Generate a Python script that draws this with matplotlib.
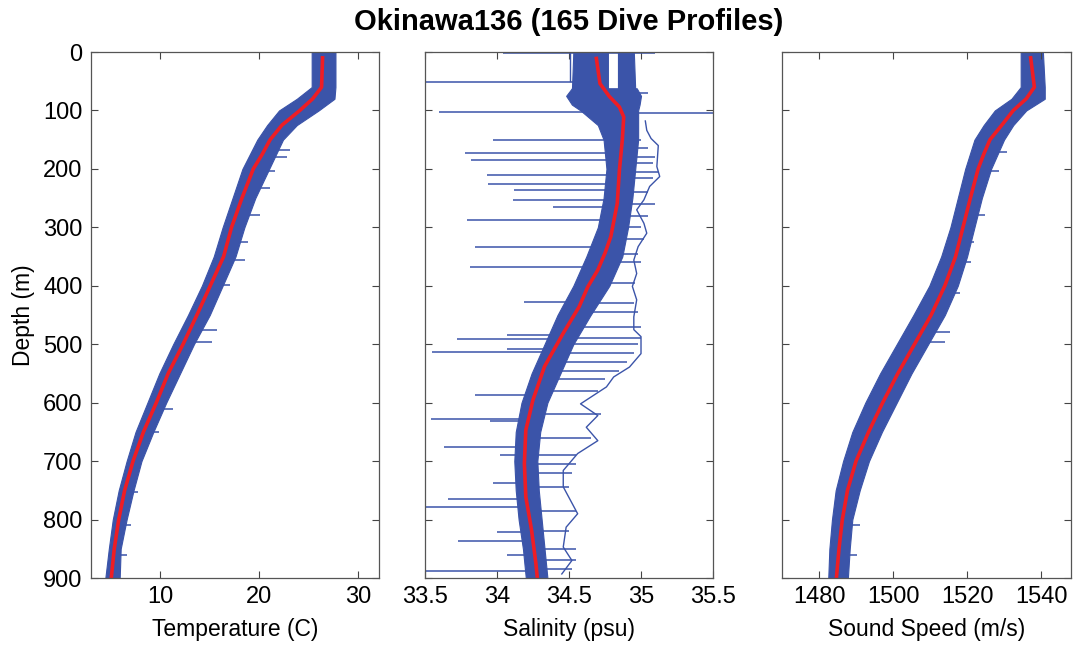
import numpy as np
import matplotlib
matplotlib.use("Agg")
import matplotlib.pyplot as plt

plt.rcParams["font.family"] = ["Liberation Sans", "DejaVu Sans"]

# ---------------- data ----------------
# Mean profiles (red)
mean_depth = [10, 60, 80, 100, 125, 150, 175, 200, 250, 300, 350, 400, 450,
              500, 550, 600, 650, 700, 750, 800, 850, 900]
temp_mean = [26.4, 26.3, 25.4, 24.1, 22.3, 21.1, 20.3, 19.4, 18.25, 17.2, 16.4,
             15.05, 13.7, 12.3, 10.8, 9.6, 8.3, 7.25, 6.4, 5.8, 5.35, 5.05]
sound_mean = [1537.2, 1538.2, 1536.0, 1532.5, 1529.4, 1526.2, 1524.5, 1523.0,
              1520.9, 1518.9, 1516.9, 1514.0, 1510.3, 1505.8, 1501.3, 1497.2,
              1493.4, 1490.0, 1487.7, 1486.3, 1485.4, 1484.7]

sal_depth = [11, 54, 76, 94, 111, 151, 202, 259, 316, 344, 373, 402, 436,
             481, 538, 595, 647, 704, 761, 818, 875, 900]
sal_mean = [34.69, 34.715, 34.78, 34.85, 34.88, 34.87, 34.85, 34.835, 34.79,
            34.75, 34.70, 34.63, 34.57, 34.46, 34.33, 34.25, 34.20, 34.19,
            34.20, 34.24, 34.27, 34.28]

# Spread of all dive profiles (blue envelope)
env_depth = [0, 60, 80, 100, 125, 150, 200, 250, 300, 350, 400, 450, 500,
             550, 600, 650, 700, 750, 800, 850, 900]
temp_lo = [25.3, 25.3, 23.8, 22.0, 20.8, 19.8, 18.3, 17.3, 16.3, 15.4, 14.2,
           12.8, 11.3, 9.9, 8.7, 7.5, 6.6, 5.8, 5.2, 4.8, 4.45]
temp_hi = [27.7, 27.7, 27.6, 26.0, 23.8, 22.4, 21.0, 19.6, 18.5, 17.6, 16.3,
           15.0, 13.4, 12.0, 10.6, 9.3, 8.1, 7.3, 6.6, 6.0, 5.9]
sound_lo = [1534.5, 1534.5, 1532.0, 1527.5, 1524.5, 1522.0, 1519.5, 1517.5,
            1515.5, 1513.0, 1509.8, 1505.5, 1501.0, 1496.5, 1492.5, 1489.0,
            1486.5, 1484.5, 1483.5, 1482.8, 1482.5]
sound_hi = [1540.5, 1541.0, 1541.0, 1536.0, 1532.5, 1530.0, 1526.5, 1524.0,
            1522.0, 1520.0, 1517.5, 1514.0, 1509.5, 1505.0, 1501.0, 1497.0,
            1493.5, 1491.0, 1489.0, 1488.3, 1487.8]

sal_env_depth = [62, 75, 90, 100, 125, 150, 200, 250, 300, 350, 400, 450, 500,
                 550, 600, 650, 700, 750, 800, 850, 900]
sal_lo = [34.52, 34.48, 34.52, 34.58, 34.70, 34.74, 34.76, 34.74, 34.70, 34.62,
          34.53, 34.42, 34.33, 34.24, 34.17, 34.13, 34.12, 34.13, 34.15, 34.18,
          34.20]
sal_hi = [34.97, 35.00, 34.99, 34.98, 34.98, 34.98, 34.96, 34.94, 34.91, 34.87,
          34.78, 34.65, 34.53, 34.44, 34.35, 34.30, 34.28, 34.29, 34.31, 34.33,
          34.35]

# Mixed-layer salinity splits into two groups of dives
sal_top_depth = [0, 66]
sal_top_a_lo = [34.53, 34.52]
sal_top_a_hi = [34.77, 34.77]
sal_top_b_lo = [34.84, 34.84]
sal_top_b_hi = [34.95, 34.96]

# Spikes in individual dives (depth, extreme value)
temp_spike_d = [168, 179, 204, 233, 279, 325, 356, 399, 476, 496, 610, 650, 752, 809, 861]
temp_spike_v = [23.1, 22.8, 21.6, 21.1, 20.1, 18.9, 18.6, 17.0, 15.7, 15.2, 11.3, 9.9, 7.8, 7.0, 6.6]
sound_spike_d = [171, 204, 279, 325, 359, 413, 479, 496, 809, 861]
sound_spike_v = [1530.9, 1528.7, 1524.8, 1521.9, 1521.0, 1518.2, 1515.5, 1514.1, 1491.1, 1490.2]
sal_spike_d = [1, 51, 102, 151, 173, 185, 210, 225, 236, 253, 265, 287, 333, 367,
               427, 484, 491, 508, 514, 587, 628, 632, 675, 690, 738, 764, 779,
               822, 836, 861, 888]
sal_spike_v = [34.04, 33.50, 33.60, 33.97, 33.78, 33.82, 33.93, 33.94, 34.12,
               34.11, 34.39, 33.79, 33.85, 33.81, 34.19, 34.07, 33.72, 34.07,
               33.55, 33.85, 33.54, 33.95, 33.63, 34.02, 33.97, 33.66, 33.50,
               34.00, 33.73, 34.07, 33.50]
sal_right_spike_d = [1, 70, 105, 150, 165, 180, 190, 205, 215, 240, 260, 280,
                     300, 320, 345, 360, 395, 430, 445, 470, 490, 500, 515, 530,
                     545, 560, 580, 620, 660, 690, 705, 720, 745, 785, 820, 850,
                     870, 885]
sal_right_spike_v = [35.10, 35.05, 35.50, 35.00, 35.05, 35.10, 35.08, 35.12,
                     35.08, 35.05, 35.10, 35.05, 35.00, 35.02, 34.98, 35.00,
                     34.96, 34.95, 34.98, 35.00, 35.00, 34.98, 34.95, 34.90,
                     34.85, 34.75, 34.70, 34.72, 34.65, 34.55, 34.55, 34.52,
                     34.50, 34.55, 34.50, 34.55, 34.55, 34.52]
# Near-surface dive that stays fresher down to about 50 m
sal_fresh_d = [0, 50]
sal_fresh_v = [34.51, 34.51]

# One dive with a noisy salinity trace on the salty side
sal_noisy_d = [118, 134, 148, 160, 196, 213, 230, 253, 270, 293, 310, 333, 356,
               379, 401, 424, 453, 475, 487, 516, 539, 556, 573, 602, 622, 642,
               665, 687, 716, 744, 790, 813, 847, 870, 893]
sal_noisy_v = [35.03, 35.04, 35.07, 35.12, 35.11, 35.13, 35.06, 35.02, 34.97,
               35.02, 35.04, 34.98, 34.95, 34.97, 34.94, 34.97, 34.95, 34.95,
               35.00, 35.00, 34.92, 34.81, 34.76, 34.58, 34.70, 34.62, 34.70,
               34.56, 34.46, 34.46, 34.56, 34.48, 34.46, 34.52, 34.45]

BLUE = "#3B54A9"
RED = "#EE1D24"

fig = plt.figure(figsize=(10.73, 6.47), dpi=100)
bottom, top = 0.1066, 0.9196
h = top - bottom
ax_t = fig.add_axes([0.0848, bottom, 0.2684, h])
ax_s = fig.add_axes([0.3961, bottom, 0.2684, h])
ax_c = fig.add_axes([0.7288, bottom, 0.2690, h])


def style(ax, xlim, xticks, xlabel, ylabels):
    ax.set_ylim(900, 0)
    ax.set_xlim(*xlim)
    ax.set_xticks(xticks)
    ax.set_yticks(np.arange(0, 901, 100))
    ax.tick_params(direction="in", length=5, width=0.8, top=True, right=True,
                   labelsize=17, color="#444444", pad=6)
    if not ylabels:
        ax.tick_params(labelleft=False)
    for s in ax.spines.values():
        s.set_color("#555555")
        s.set_linewidth(0.9)
    ax.set_xlabel(xlabel, fontsize=16.5, labelpad=7)


def spikes(ax, depth, value, ref_depth, ref_value):
    start = np.interp(depth, ref_depth, ref_value)
    ax.hlines(depth, start, value, color=BLUE, lw=1.1)


# Temperature
ax_t.fill_betweenx(env_depth, temp_lo, temp_hi, color=BLUE, lw=0.8, edgecolor=BLUE)
spikes(ax_t, temp_spike_d, temp_spike_v, mean_depth, temp_mean)
ax_t.plot(temp_mean, mean_depth, color=RED, lw=2.6)
style(ax_t, (3.0, 32.1), [10, 20, 30], "Temperature (C)", True)
ax_t.set_ylabel("Depth (m)", fontsize=16.5, labelpad=6)

# Salinity
ax_s.fill_betweenx(sal_top_depth, sal_top_a_lo, sal_top_a_hi, color=BLUE, lw=0.8, edgecolor=BLUE)
ax_s.fill_betweenx(sal_top_depth, sal_top_b_lo, sal_top_b_hi, color=BLUE, lw=0.8, edgecolor=BLUE)
ax_s.fill_betweenx(sal_env_depth, sal_lo, sal_hi, color=BLUE, lw=0.8, edgecolor=BLUE)
ax_s.plot(sal_noisy_v, sal_noisy_d, color=BLUE, lw=1.0)
ax_s.plot(sal_fresh_v, sal_fresh_d, color=BLUE, lw=1.0)
spikes(ax_s, sal_spike_d, sal_spike_v, sal_depth, sal_mean)
spikes(ax_s, sal_right_spike_d, sal_right_spike_v, sal_depth, sal_mean)
ax_s.plot(sal_mean, sal_depth, color=RED, lw=2.6)
style(ax_s, (33.5, 35.5), [33.5, 34, 34.5, 35, 35.5], "Salinity (psu)", False)
ax_s.set_xticklabels(["33.5", "34", "34.5", "35", "35.5"])

# Sound speed
ax_c.fill_betweenx(env_depth, sound_lo, sound_hi, color=BLUE, lw=0.8, edgecolor=BLUE)
spikes(ax_c, sound_spike_d, sound_spike_v, mean_depth, sound_mean)
ax_c.plot(sound_mean, mean_depth, color=RED, lw=2.6)
style(ax_c, (1470, 1548), [1480, 1500, 1520, 1540], "Sound Speed (m/s)", False)

fig.text(0.53, 0.966, "Okinawa136 (165 Dive Profiles)", ha="center", va="center",
         fontsize=21, fontweight="bold")

fig.savefig("out.png", dpi=100)
